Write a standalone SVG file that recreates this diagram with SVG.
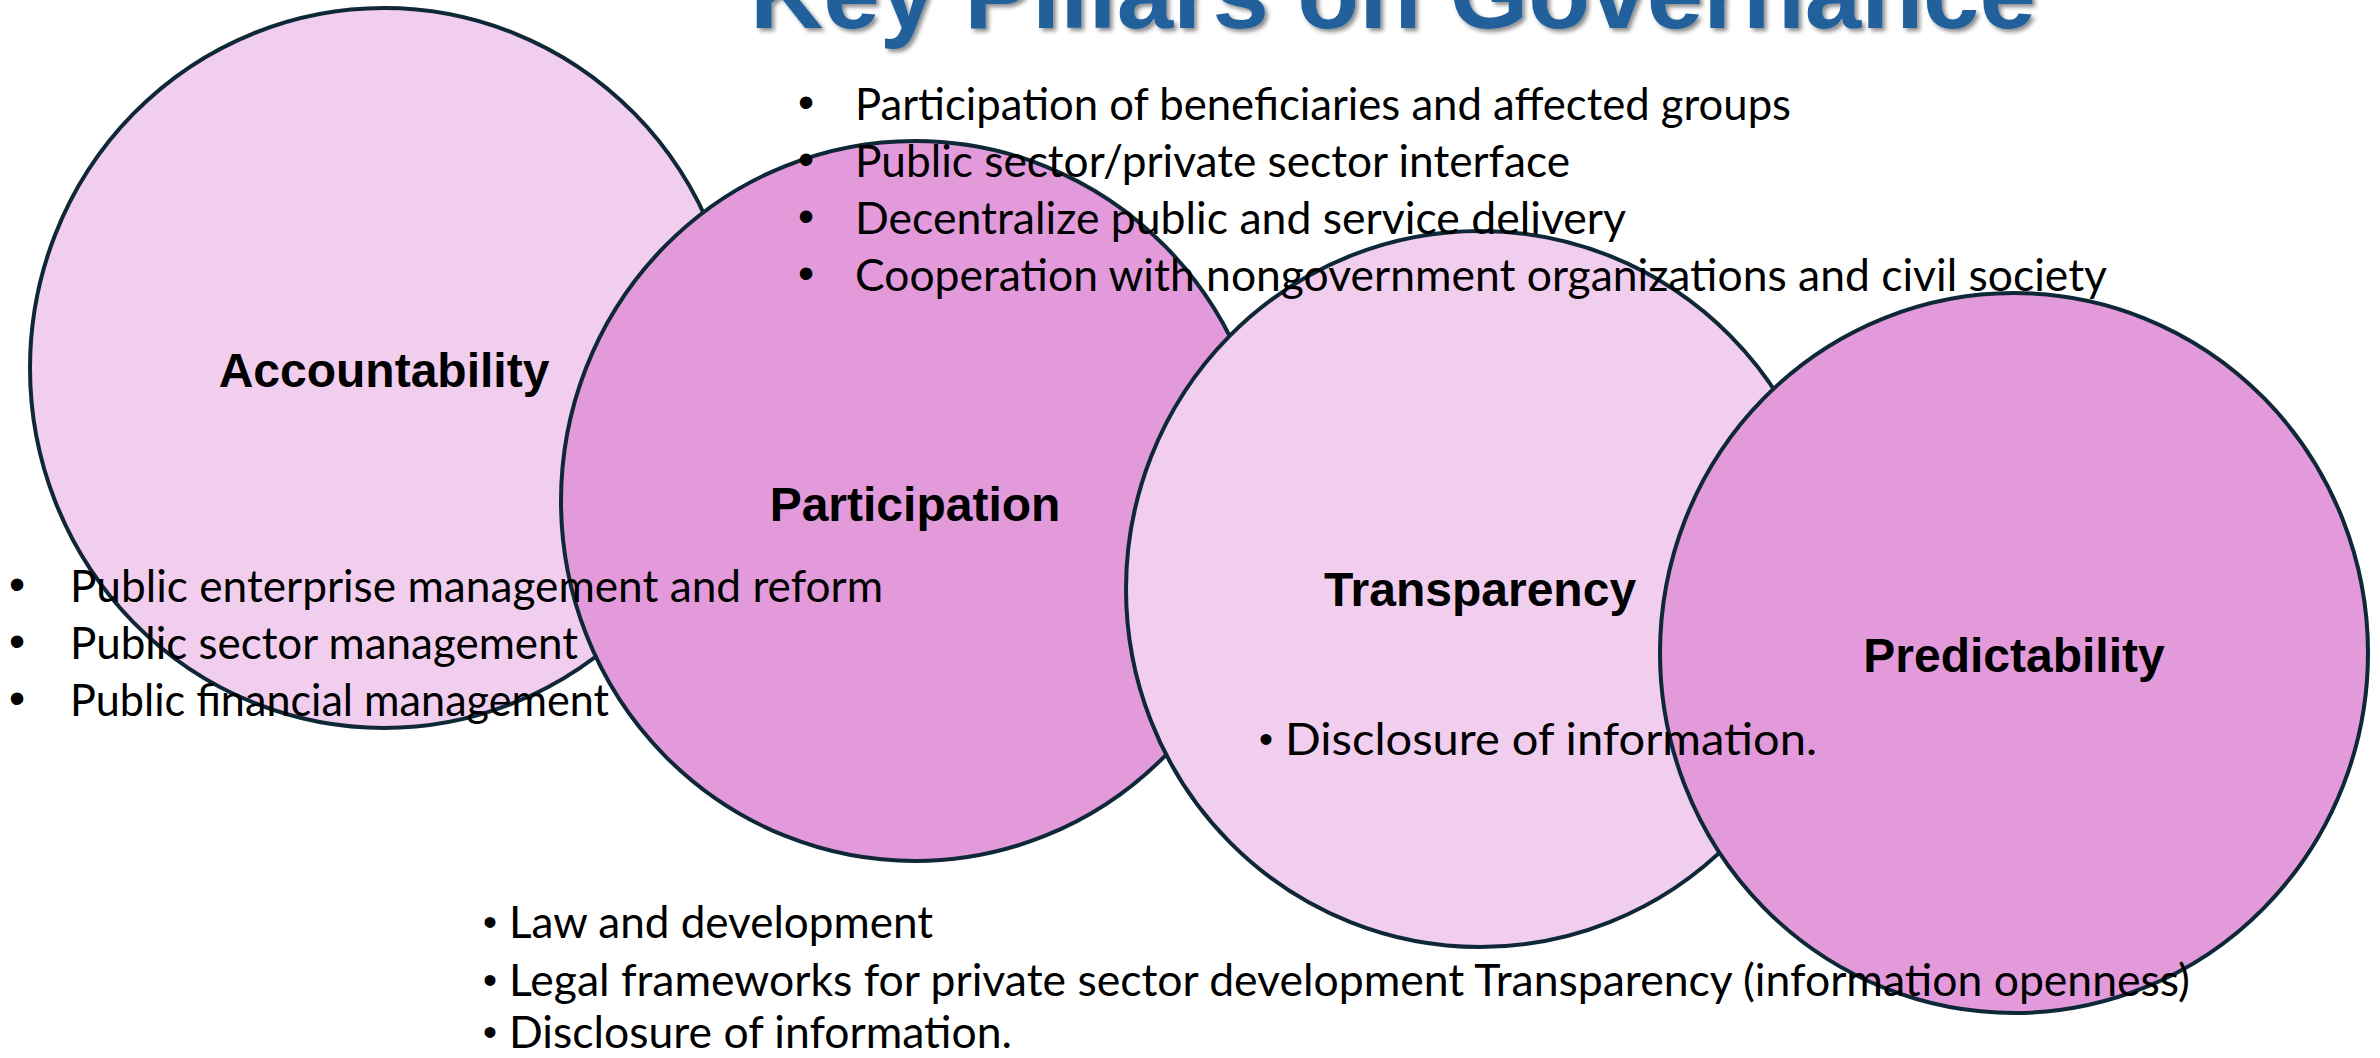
<svg xmlns="http://www.w3.org/2000/svg" width="2380" height="1058" viewBox="0 0 2380 1058">
<style>
.light{fill:#F1CDEE;stroke:#0E2838;stroke-width:4}
.dark{fill:#E29ADA;stroke:#0E2838;stroke-width:4}
.lbl{font-family:"Liberation Sans",Arial,sans-serif;font-weight:bold;font-size:48px;fill:#000;text-anchor:middle}
.body{font-family:Lato,"Open Sans",sans-serif;font-size:44px;fill:#000}
.bul{font-family:"Liberation Sans",Arial,sans-serif;font-size:46px;fill:#000;text-anchor:middle}
.bul2{font-family:"Liberation Sans",Arial,sans-serif;font-size:40px;fill:#000;text-anchor:middle}
.title{font-family:"Liberation Sans",Arial,sans-serif;font-weight:bold;font-size:100px;fill:#21609B}
</style>
<defs>
<filter id="sh" x="-5%" y="-50%" width="110%" height="200%">
<feDropShadow dx="3" dy="3" stdDeviation="2" flood-color="#000" flood-opacity="0.45"/>
</filter>
</defs>
<rect width="2380" height="1058" fill="#fff"/>
<g id="title"><text class="title" x="750" y="28" textLength="1286" lengthAdjust="spacingAndGlyphs" filter="url(#sh)">Key Pillars on Governance</text></g>
<g id="connectors"></g>
<g id="accountability"><ellipse class="light" cx="384" cy="368" rx="354" ry="360"/></g>
<g id="participation"><ellipse class="dark" cx="915" cy="501" rx="354" ry="360"/></g>
<g id="transparency"><ellipse class="light" cx="1480" cy="589" rx="354" ry="358"/></g>
<g id="predictability"><ellipse class="dark" cx="2014" cy="653" rx="354" ry="360"/></g>
<g id="labels">
<text class="lbl" x="384" y="387">Accountability</text>
<text class="lbl" x="915" y="521">Participation</text>
<text class="lbl" x="1480" y="606">Transparency</text>
<text class="lbl" x="2014" y="672">Predictability</text>
</g>
<g id="participation-list">
<text class="bul" x="806" y="118">•</text>
<text class="body" x="855" y="120" textLength="936" lengthAdjust="spacingAndGlyphs">Participation of beneficiaries and affected groups</text>
<text class="bul" x="806" y="175">•</text>
<text class="body" x="855" y="177" textLength="715" lengthAdjust="spacingAndGlyphs">Public sector/private sector interface</text>
<text class="bul" x="806" y="232">•</text>
<text class="body" x="855" y="234" textLength="771" lengthAdjust="spacingAndGlyphs">Decentralize public and service delivery</text>
<text class="bul" x="806" y="289">•</text>
<text class="body" x="855" y="291" textLength="1252" lengthAdjust="spacingAndGlyphs">Cooperation with nongovernment organizations and civil society</text>
</g>
<g id="accountability-list">
<text class="bul" x="17" y="600">•</text>
<text class="body" x="70" y="602" textLength="813" lengthAdjust="spacingAndGlyphs">Public enterprise management and reform</text>
<text class="bul" x="17" y="657">•</text>
<text class="body" x="70" y="659" textLength="508" lengthAdjust="spacingAndGlyphs">Public sector management</text>
<text class="bul" x="17" y="714">•</text>
<text class="body" x="70" y="716" textLength="539" lengthAdjust="spacingAndGlyphs">Public financial management</text>
</g>
<g id="transparency-list">
<text class="bul2" x="1266" y="753">•</text>
<text class="body" x="1285" y="755" textLength="532" lengthAdjust="spacingAndGlyphs">Disclosure of information.</text>
</g>
<g id="predictability-list">
<text class="bul2" x="490" y="936">•</text>
<text class="body" x="509" y="938" textLength="424" lengthAdjust="spacingAndGlyphs">Law and development</text>
<text class="bul2" x="490" y="994">•</text>
<text class="body" x="509" y="996" textLength="1681" lengthAdjust="spacingAndGlyphs">Legal frameworks for private sector development Transparency (information openness)</text>
<text class="bul2" x="490" y="1046">•</text>
<text class="body" x="509" y="1048" textLength="503" lengthAdjust="spacingAndGlyphs">Disclosure of information.</text>
</g>
</svg>
